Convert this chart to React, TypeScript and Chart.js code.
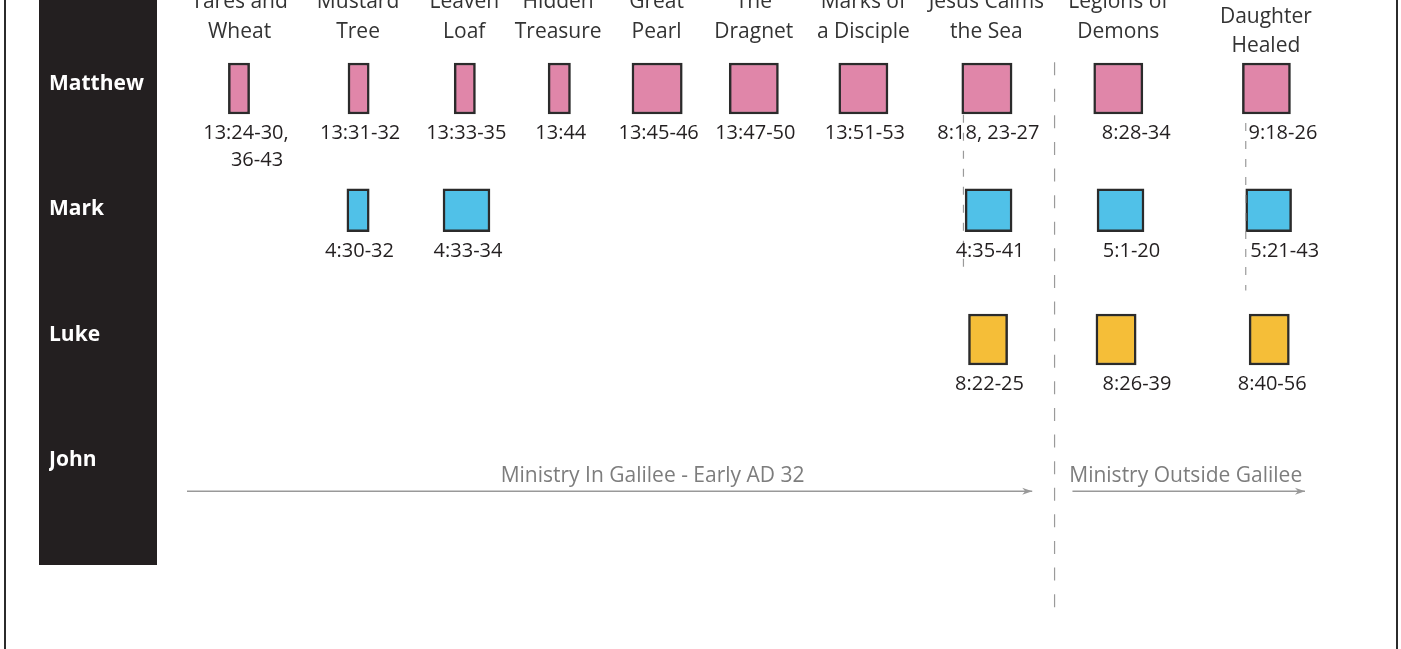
import React, { useEffect, useRef } from 'react';
import { Chart, registerables } from 'chart.js';

Chart.register(...registerables);

// ---------- data ----------
const eventTitles: string[][] = [
  ['Tares and', 'Wheat'],
  ['Mustard', 'Tree'],
  ['Leaven', 'Loaf'],
  ['Hidden', 'Treasure'],
  ['Great', 'Pearl'],
  ['The', 'Dragnet'],
  ['Marks of', 'a Disciple'],
  ['Jesus Calms', 'the Sea'],
  ['Legions of', 'Demons'],
  ["Jairus'", 'Daughter', 'Healed'],
];
// timeline position of each event (0 = start of Galilee period, 100 = end of chart)
const eventCenters = [4.7, 15.3, 24.8, 33.2, 42.0, 50.7, 60.5, 71.5, 83.3, 96.5];

const gospels = ['Matthew', 'Mark', 'Luke', 'John'];
const gospelRows = [0, 0.97, 2, 3];

type Span = [number, number] | null;
type Ref = string[] | null;

const matthewSpans: Span[] = [
  [3.7, 5.6], [14.4, 16.3], [23.9, 25.8], [32.3, 34.3], [39.8, 44.3],
  [48.5, 52.9], [58.3, 62.7], [69.3, 73.8], [81.1, 85.5], [94.4, 98.7],
];
const matthewRefs: Ref[] = [
  ['13:24-30,', '36-43'], ['13:31-32'], ['13:33-35'], ['13:44'], ['13:45-46'],
  ['13:47-50'], ['13:51-53'], ['8:18, 23-27'], ['8:28-34'], ['9:18-26'],
];
const markSpans: Span[] = [
  null, [14.3, 16.3], [22.9, 27.1], null, null,
  null, null, [69.6, 73.8], [81.4, 85.6], [94.7, 98.8],
];
const markRefs: Ref[] = [
  null, ['4:30-32'], ['4:33-34'], null, null,
  null, null, ['4:35-41'], ['5:1-20'], ['5:21-43'],
];
const lukeSpans: Span[] = [
  null, null, null, null, null,
  null, null, [69.9, 73.4], [81.3, 84.9], [95.0, 98.6],
];
const lukeRefs: Ref[] = [
  null, null, null, null, null,
  null, null, ['8:22-25'], ['8:26-39'], ['8:40-56'],
];

const periodLabels = ['Ministry In Galilee - Early AD 32', 'Ministry Outside Galilee'];
const periodStarts = [0, 79.2];
const periodEnds = [75.6, 100];
const periodRow = 3.21;

const dividerAt = 77.6;
const dividerRange = [-0.21, 4.14];
const connectorAt = [69.45, 94.7];
const connectorFrom = [0.21, 0.275];
const connectorTo = [1.5, 1.61];

const rowMin = -0.227;
const rowMax = 4.2;

// ---------- style ----------
const FONT = "'Open Sans', sans-serif";
const gospelColors = ['#e086a9', '#50c1e8', '#f5be38'];
const gospelThickness = [51, 43, 51];
// horizontal nudges (px) of reference labels relative to their box centre, per line
const refNudge: Record<string, number[]> = {
  '0-0': [7, 18],
  '0-8': [18],
  '0-9': [16.5],
  '1-8': [11],
  '1-9': [16],
  '2-8': [21],
  '2-9': [3],
};
const periodNudge = [43, -3];

const overlayPlugin = {
  id: 'overlay',
  afterDatasetsDraw(chart: any) {
    const ctx: CanvasRenderingContext2D = chart.ctx;
    ctx.save();
    // reference labels under boxes
    ctx.font = `20px ${FONT}`;
    ctx.fillStyle = '#231f20';
    ctx.textAlign = 'center';
    ctx.textBaseline = 'alphabetic';
    chart.data.datasets.forEach((ds: any, di: number) => {
      if (ds.kind !== 'box') return;
      const meta = chart.getDatasetMeta(di);
      meta.data.forEach((el: any, i: number) => {
        const d = ds.data[i];
        const p = el.getProps(['x', 'base', 'y', 'height'], true);
        const cx = (p.x + p.base) / 2;
        const bottom = p.y + p.height / 2;
        const nud = refNudge[`${ds.gospel}-${d.event}`] || [1.5];
        (d.refs as string[]).forEach((line, li) => {
          const dx = nud[Math.min(li, nud.length - 1)];
          ctx.fillText(line, cx + dx, bottom + 25 + li * 27.5);
        });
      });
    });
    // arrow heads + period labels
    chart.data.datasets.forEach((ds: any, di: number) => {
      if (ds.kind !== 'arrow') return;
      const meta = chart.getDatasetMeta(di);
      const a = meta.data[0];
      const b = meta.data[meta.data.length - 1];
      ctx.fillStyle = '#999999';
      ctx.beginPath();
      ctx.moveTo(b.x, b.y);
      ctx.lineTo(b.x - 10, b.y - 3.5);
      ctx.lineTo(b.x - 7, b.y);
      ctx.lineTo(b.x - 10, b.y + 3.5);
      ctx.closePath();
      ctx.fill();
      ctx.font = `21px ${FONT}`;
      ctx.fillStyle = '#7d7d7d';
      ctx.textAlign = 'center';
      ctx.textBaseline = 'alphabetic';
      ctx.fillText(ds.label, (a.x + b.x) / 2 + periodNudge[ds.period], a.y - 9.5);
    });
    ctx.restore();
  },
};

function buildBoxes(g: number, spans: Span[], refs: Ref[]) {
  const data: any[] = [];
  spans.forEach((s, i) => {
    if (s) data.push({ x: s, y: gospelRows[g], refs: refs[i] || [], event: i });
  });
  return {
    type: 'bar' as const,
    kind: 'box',
    gospel: g,
    label: gospels[g],
    data,
    backgroundColor: gospelColors[g],
    borderColor: '#2b2b2b',
    borderWidth: 2.5,
    borderSkipped: false,
    barThickness: gospelThickness[g],
    grouped: false,
    order: 1,
  };
}

export default function App() {
  const canvasRef = useRef<HTMLCanvasElement | null>(null);

  useEffect(() => {
    if (!canvasRef.current) return;
    const lineBase = {
      type: 'line' as const,
      pointRadius: 0,
      pointHoverRadius: 0,
      fill: false,
      clip: false,
      order: 0,
    };
    const datasets: any[] = [
      buildBoxes(0, matthewSpans, matthewRefs),
      buildBoxes(1, markSpans, markRefs),
      buildBoxes(2, lukeSpans, lukeRefs),
      {
        ...lineBase,
        kind: 'divider',
        label: 'divider',
        data: [{ x: dividerAt, y: dividerRange[0] }, { x: dividerAt, y: dividerRange[1] }],
        borderColor: '#9a9a9a',
        borderWidth: 1.2,
        borderDash: [13, 13.6],
      },
      ...connectorAt.map((cx, i) => ({
        ...lineBase,
        kind: 'connector',
        label: 'connector',
        data: [{ x: cx, y: connectorFrom[i] }, { x: cx, y: connectorTo[i] }],
        borderColor: '#9a9a9a',
        borderWidth: 1.2,
        borderDash: [8, 10],
      })),
      ...periodLabels.map((lbl, i) => ({
        ...lineBase,
        kind: 'arrow',
        period: i,
        label: lbl,
        data: [{ x: periodStarts[i], y: periodRow }, { x: periodEnds[i], y: periodRow }],
        borderColor: '#999999',
        borderWidth: 1.5,
      })),
    ];

    const chart = new Chart(canvasRef.current, {
      type: 'bar',
      data: { datasets },
      options: {
        indexAxis: 'y',
        animation: false,
        responsive: true,
        maintainAspectRatio: false,
        events: [],
        layout: { padding: { left: 49, right: 96, top: 0, bottom: 33.4 } },
        plugins: { legend: { display: false }, tooltip: { enabled: false } },
        scales: {
          x: {
            type: 'linear',
            position: 'top',
            min: 0,
            max: 100,
            offset: false,
            grid: { display: false, drawTicks: false },
            border: { display: false },
            afterBuildTicks: (scale: any) => {
              scale.ticks = eventCenters.map((v) => ({ value: v }));
            },
            afterFit: (scale: any) => {
              scale.height = 60;
            },
            ticks: {
              autoSkip: false,
              maxRotation: 0,
              minRotation: 0,
              padding: 13.5,
              crossAlign: 'center',
              color: '#333333',
              font: { family: FONT, size: 21, lineHeight: 1.4 },
              callback: (_v: any, i: number) => eventTitles[i],
            },
          },
          y: {
            type: 'linear',
            position: 'left',
            reverse: true,
            min: rowMin,
            max: rowMax,
            offset: false,
            grid: { display: false, drawTicks: false },
            border: { display: false },
            afterBuildTicks: (scale: any) => {
              scale.ticks = gospels.map((_g, i) => ({ value: i }));
            },
            afterFit: (scale: any) => {
              scale.width = 138;
            },
            ticks: {
              crossAlign: 'far',
              labelOffset: -4.5,
              padding: 0,
              color: '#ffffff',
              font: { family: FONT, size: 21, weight: 'bold' },
              callback: (_v: any, i: number) => gospels[i],
            },
          },
        },
      } as any,
      plugins: [overlayPlugin],
    });
    return () => chart.destroy();
  }, []);

  return (
    <div style={{ position: 'fixed', left: 0, top: 0, width: 1401, height: 649, overflow: 'hidden', background: '#ffffff' }}>
      <div
        style={{
          position: 'absolute',
          left: 4,
          top: -10,
          width: 1394,
          height: 700,
          borderLeft: '2px solid #2b2b2b',
          borderRight: '2px solid #2b2b2b',
          boxSizing: 'border-box',
        }}
      />
      <div style={{ position: 'absolute', left: 39, top: 0, width: 118, height: 565, background: '#231f20' }} />
      <div style={{ position: 'absolute', left: 0, top: 0, width: 1401, height: 649 }}>
        <canvas ref={canvasRef} />
      </div>
    </div>
  );
}
